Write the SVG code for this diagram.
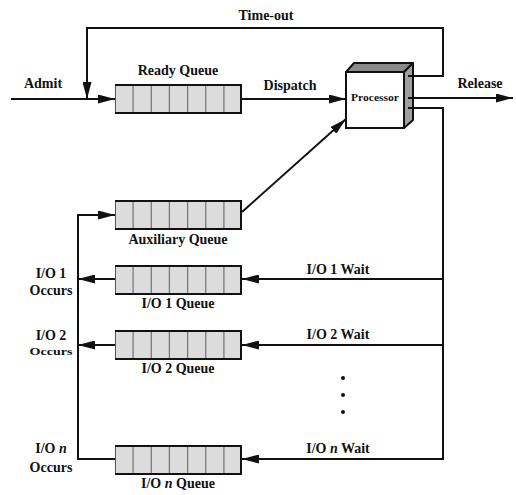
<svg xmlns="http://www.w3.org/2000/svg" xmlns:xlink="http://www.w3.org/1999/xlink" width="516" height="495" viewBox="0 0 516 495">
  <style>
    .lbl { font-family: "Liberation Serif", "Times New Roman", serif; font-weight: bold; font-size: 14px; fill: #111; text-anchor: middle; }
    .wire { fill: none; stroke: #111; stroke-width: 2; stroke-linejoin: miter; }
    .arrow { marker-end: url(#head); }
  </style>
  <defs>
    <marker id="head" markerUnits="userSpaceOnUse" markerWidth="17" markerHeight="9" refX="17" refY="4.5" orient="auto">
      <path d="M0,0 L17,4.5 L0,9 Z" fill="#111"/>
    </marker>
    <!-- seven-slot queue, 127 x 30 -->
    <g id="queue">
      <rect x="0" y="0" width="127" height="30" fill="#dcdcdc"/>
      <g stroke="#7a7a7a" stroke-width="1.3">
        <line x1="18.1" y1="0" x2="18.1" y2="30"/>
        <line x1="36.3" y1="0" x2="36.3" y2="30"/>
        <line x1="54.4" y1="0" x2="54.4" y2="30"/>
        <line x1="72.6" y1="0" x2="72.6" y2="30"/>
        <line x1="90.7" y1="0" x2="90.7" y2="30"/>
        <line x1="108.9" y1="0" x2="108.9" y2="30"/>
      </g>
      <line x1="0.5" y1="0" x2="0.5" y2="30" stroke="#555" stroke-width="1"/>
      <line x1="126" y1="0" x2="126" y2="30" stroke="#111" stroke-width="2"/>
      <line x1="0" y1="1" x2="127" y2="1" stroke="#111" stroke-width="2"/>
      <line x1="0" y1="29" x2="127" y2="29" stroke="#111" stroke-width="2"/>
    </g>
  </defs>

  <rect width="516" height="495" fill="#fff"/>

  <!-- processor block -->
  <g id="processor">
    <path d="M346,72 L354,63 L413,63 L404,72 Z" fill="#8a8a8a" stroke="#111" stroke-width="2" stroke-linejoin="round"/>
    <path d="M404,72 L413,63 L413,120 L404,128 Z" fill="#a0a0a0" stroke="#111" stroke-width="2" stroke-linejoin="round"/>
    <rect x="346" y="72" width="58" height="56" fill="#fff" stroke="#111" stroke-width="2"/>
    <text class="lbl" x="375" y="101" style="font-size:9.5px" textLength="48" lengthAdjust="spacingAndGlyphs">Processor</text>
  </g>

  <!-- connectors -->
  <g id="connectors">
    <path class="wire arrow" d="M11,99 H115"/>
    <path class="wire arrow" d="M408,76 H443 V28 H87 V99"/>
    <path class="wire arrow" d="M242,99 H346"/>
    <path class="wire arrow" d="M408,98 H513"/>
    <path class="wire arrow" d="M242,212 L346,119"/>
    <path class="wire arrow" d="M408,108 H443 V459 H242"/>
    <path class="wire arrow" d="M443,279 H242"/>
    <path class="wire arrow" d="M443,345 H242"/>
    <path class="wire arrow" d="M115,279 H78"/>
    <path class="wire arrow" d="M115,345 H78"/>
    <path class="wire arrow" d="M115,459 H78 V215 H115"/>
  </g>

  <g id="ready-queue">
    <use xlink:href="#queue" x="115" y="84"/>
    <text class="lbl" x="178" y="75">Ready Queue</text>
  </g>
  <g id="auxiliary-queue">
    <use xlink:href="#queue" x="115" y="200"/>
    <text class="lbl" x="178" y="244">Auxiliary Queue</text>
  </g>
  <g id="io1-queue">
    <use xlink:href="#queue" x="115" y="265"/>
    <text class="lbl" x="178" y="308">I/O 1 Queue</text>
  </g>
  <g id="io2-queue">
    <use xlink:href="#queue" x="115" y="330"/>
    <text class="lbl" x="178" y="373">I/O 2 Queue</text>
  </g>
  <g id="ion-queue">
    <use xlink:href="#queue" x="115" y="445"/>
    <text class="lbl" x="178" y="488">I/O <tspan font-style="italic">n</tspan> Queue</text>
  </g>

  <!-- connector labels -->
  <g id="labels">
    <text class="lbl" x="43" y="88">Admit</text>
    <text class="lbl" x="266" y="20">Time-out</text>
    <text class="lbl" x="290" y="90">Dispatch</text>
    <text class="lbl" x="480" y="88">Release</text>
    <text class="lbl" x="338" y="274">I/O 1 Wait</text>
    <text class="lbl" x="338" y="339">I/O 2 Wait</text>
    <text class="lbl" x="338" y="453">I/O <tspan font-style="italic">n</tspan> Wait</text>
    <text class="lbl" x="51" y="278">I/O 1</text>
    <text class="lbl" x="51" y="295">Occurs</text>
    <text class="lbl" x="51" y="340">I/O 2</text>
    <text class="lbl" x="51" y="355" style="font-size:11px" textLength="43" lengthAdjust="spacingAndGlyphs">Occurs</text>
    <text class="lbl" x="51" y="453">I/O <tspan font-style="italic">n</tspan></text>
    <text class="lbl" x="51" y="472">Occurs</text>
  </g>

  <g id="ellipsis" fill="#111">
    <circle cx="343" cy="378" r="2"/>
    <circle cx="343" cy="395" r="2"/>
    <circle cx="343" cy="412" r="2"/>
  </g>
</svg>
